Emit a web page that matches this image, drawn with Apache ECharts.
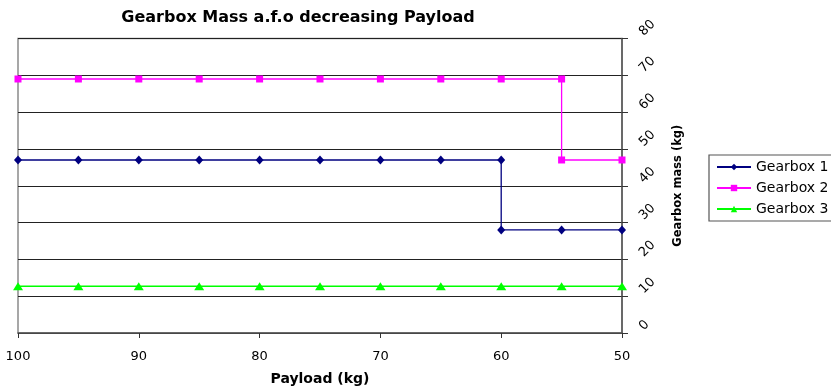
<!DOCTYPE html>
<html>
<head>
<meta charset="utf-8">
<script src="https://cdn.jsdelivr.net/npm/echarts@6/dist/echarts.min.js"></script>
<style>
  html, body { margin: 0; padding: 0; background: #fff; }
  #chart { width: 831px; height: 391px; }
</style>
</head>
<body>
<div id="chart"></div>
<script>
// Payload sweep (kg), x axis runs from 100 down to 50
const payloadTicks = [100, 90, 80, 70, 60, 50];
const massTicks = [0, 10, 20, 30, 40, 50, 60, 70, 80];

// Gearbox 1: steps down at 60 kg
const gb1Payload = [100, 95, 90, 85, 80, 75, 70, 65, 60, 60, 55, 50];
const gb1Mass    = [47, 47, 47, 47, 47, 47, 47, 47, 47, 28, 28, 28];

// Gearbox 2: steps down at 55 kg
const gb2Payload = [100, 95, 90, 85, 80, 75, 70, 65, 60, 55, 55, 50];
const gb2Mass    = [69, 69, 69, 69, 69, 69, 69, 69, 69, 69, 47, 47];

// Gearbox 3: constant
const gb3Payload = [100, 95, 90, 85, 80, 75, 70, 65, 60, 55, 50];
const gb3Mass    = [12.7, 12.7, 12.7, 12.7, 12.7, 12.7, 12.7, 12.7, 12.7, 12.7, 12.7];

const seriesNames = ['Gearbox 1', 'Gearbox 2', 'Gearbox 3'];

function pairs(xs, ys) { return xs.map((x, i) => [x, ys[i]]); }

const FONT = 'DejaVu Sans';

const chart = echarts.init(document.getElementById('chart'), null, { renderer: 'canvas' });

chart.setOption({
  animation: false,
  backgroundColor: '#ffffff',
  title: {
    text: 'Gearbox Mass a.f.o decreasing Payload',
    left: 293,
    top: 5,
    textAlign: 'center',
    textStyle: { fontFamily: FONT, fontSize: 16, fontWeight: 'bold', color: '#000' }
  },
  grid: {
    left: 18, right: 209, top: 38.5, bottom: 53.7,
    show: true, borderColor: '#8a8a8a', borderWidth: 1.5, backgroundColor: 'transparent'
  },
  legend: {
    orient: 'vertical',
    left: 709, top: 155,
    data: seriesNames,
    itemWidth: 34, itemHeight: 8, itemGap: 7,
    padding: [5, 40, 5, 7],
    borderColor: '#555', borderWidth: 1.2,
    textStyle: { fontFamily: FONT, fontSize: 14, color: '#000' }
  },
  xAxis: {
    type: 'value',
    inverse: true,
    min: 50, max: 100, interval: 10,
    name: 'Payload (kg)',
    nameLocation: 'middle',
    nameGap: 39,
    nameMoveOverlap: false,
    nameTextStyle: { fontFamily: FONT, fontSize: 14, fontWeight: 'bold', color: '#000' },
    axisLine: { show: true, lineStyle: { color: '#555', width: 1.5 } },
    axisTick: { show: true, inside: false, length: 5, lineStyle: { color: '#333' } },
    axisLabel: {
      fontFamily: FONT, fontSize: 13, color: '#000', margin: 17,
      formatter: v => payloadTicks.includes(v) ? String(v) : ''
    },
    splitLine: { show: false }
  },
  yAxis: {
    type: 'value',
    position: 'right',
    min: 0, max: 80, interval: 10,
    name: 'Gearbox mass (kg)',
    nameLocation: 'middle',
    nameRotate: 90,
    nameGap: 50,
    nameMoveOverlap: false,
    nameTextStyle: { fontFamily: FONT, fontSize: 11.5, fontWeight: 'bold', color: '#000' },
    axisLine: { show: true, lineStyle: { color: '#555', width: 1.5 } },
    axisTick: { show: true, inside: false, length: 6, lineStyle: { color: '#333' } },
    axisLabel: {
      fontFamily: FONT, fontSize: 13, color: '#000',
      rotate: 45, margin: 24,
      align: 'left', verticalAlign: 'bottom',
      showMinLabel: true, showMaxLabel: true,
      formatter: v => massTicks.includes(v) ? String(v) : ''
    },
    splitLine: { show: true, lineStyle: { color: '#222', width: 1 } }
  },
  series: [
    {
      name: seriesNames[0], type: 'line',
      data: pairs(gb1Payload, gb1Mass),
      color: '#000080',
      lineStyle: { width: 1.3, color: '#000080' },
      symbol: 'diamond', symbolSize: [8, 9],
      itemStyle: { color: '#000080' }
    },
    {
      name: seriesNames[1], type: 'line',
      data: pairs(gb2Payload, gb2Mass),
      color: '#ff00ff',
      lineStyle: { width: 1.3, color: '#ff00ff' },
      symbol: 'rect', symbolSize: 7,
      itemStyle: { color: '#ff00ff' }
    },
    {
      name: seriesNames[2], type: 'line',
      data: pairs(gb3Payload, gb3Mass),
      color: '#00ff00',
      lineStyle: { width: 1.5, color: '#00ff00' },
      symbol: 'triangle', symbolSize: [10, 8],
      itemStyle: { color: '#00ff00' }
    }
  ]
});
</script>
</body>
</html>
